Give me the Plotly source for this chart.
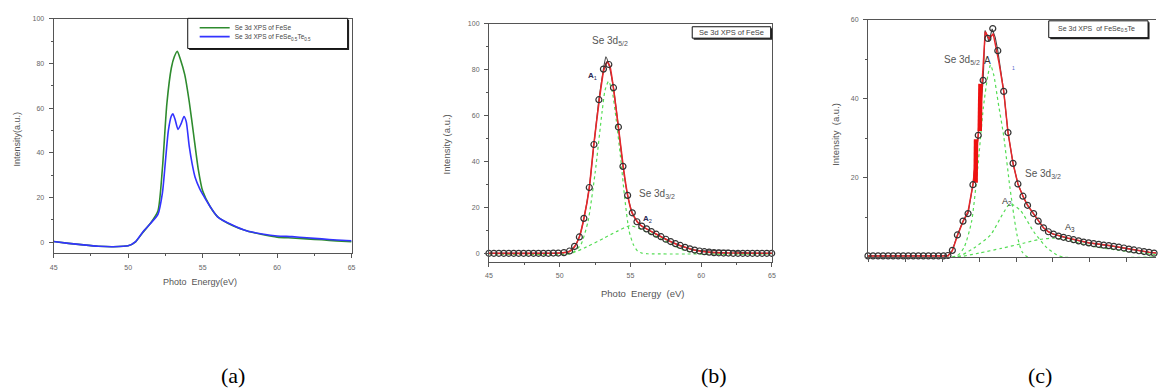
import plotly.graph_objects as go

W, H = 1160, 389

# ---------------- Panel (a) data ----------------
a_fese_x = [45, 46, 47, 48, 49, 50, 50.5, 51, 51.5, 52, 52.3, 52.6, 52.9, 53.1, 53.3, 53.5, 53.8, 54.1,
            54.4, 54.7, 55, 55.5, 56, 57, 58, 59, 60, 61, 62, 63, 64, 65]
a_fese_y = [0.3, -0.5, -1.2, -1.8, -2.0, -1.6, 0.2, 4.5, 8.5, 14, 33, 62, 78, 83, 85.5, 82, 75, 63,
            48, 33, 23, 16, 11.5, 7.5, 5, 3.5, 2.3, 1.9, 1.5, 1.1, 0.6, 0.2]
a_fst_x = [45, 46, 47, 48, 49, 50, 50.5, 51, 51.5, 52, 52.3, 52.5, 52.7, 52.9, 53.0, 53.15, 53.35, 53.55,
           53.75, 53.9, 54.1, 54.3, 54.5, 54.8, 55, 55.5, 56, 57, 58, 59, 60, 61, 62, 63, 64, 65]
a_fst_y = [0.3, -0.5, -1.2, -1.8, -2.0, -1.6, 0.3, 4.7, 8.4, 12.5, 22, 36, 50, 56.5, 57.5, 55, 50.5, 53,
           56.3, 54, 43, 35, 29, 24, 21.5, 16, 11.4, 7.7, 5, 3.7, 2.8, 2.5, 2.0, 1.5, 1.0, 0.7]
a_names = ["Se 3d XPS of FeSe", "Se 3d XPS of FeSe<sub>0.5</sub>Te<sub>0.5</sub>"]

# ---------------- Panel (b) data ----------------
b_x = [45.0, 45.35, 45.7, 46.05, 46.4, 46.75, 47.1, 47.45, 47.8, 48.15, 48.5, 48.85, 49.2, 49.55, 49.9,
       50.3, 50.7, 51.05, 51.39, 51.71, 52.09, 52.42, 52.77, 53.09, 53.47, 53.8, 54.15, 54.47, 54.8,
       55.13, 55.46, 55.8, 56.14, 56.48, 56.82, 57.16, 57.5, 57.84, 58.18, 58.52, 58.86, 59.2, 59.54,
       59.88, 60.22, 60.56, 60.9, 61.24, 61.58, 61.92, 62.26, 62.6, 62.94, 63.28, 63.62, 63.96, 64.3,
       64.64, 64.98]
b_y = [0.2, 0.2, 0.2, 0.2, 0.2, 0.2, 0.2, 0.2, 0.2, 0.2, 0.2, 0.2, 0.2, 0.3, 0.3,
       0.5, 1.2, 3.2, 7.3, 15.4, 28.8, 47.5, 67, 80.3, 82.3, 72.2, 55.1, 38, 25.4,
       17.8, 13.9, 12.0, 10.8, 9.6, 8.5, 7.4, 6.3, 5.3, 4.4, 3.6, 2.8, 2.1, 1.6,
       1.2, 0.9, 0.7, 0.5, 0.4, 0.3, 0.3, 0.2, 0.2, 0.2, 0.2, 0.2, 0.2, 0.2,
       0.2, 0.2]
b_line_x = [45, 50, 50.7, 51.05, 51.39, 51.71, 52.09, 52.42, 52.77, 53.09, 53.26, 53.47, 53.8, 54.15,
            54.47, 54.8, 55.13, 55.46, 55.8, 56.48, 57.16, 57.84, 58.52, 59.2, 59.88, 60.56, 61.24,
            61.9, 62.6, 63.3, 65]
b_line_y = [0.2, 0.3, 1.2, 3.2, 7.3, 15.4, 28.8, 47.5, 67, 80.3, 85.7, 82.3, 72.2, 55.1,
            38, 25.4, 17.8, 13.9, 12, 9.6, 7.4, 5.3, 3.6, 2.1, 1.4, 1.3, 1.5,
            1.5, 0.8, 0.3, 0.2]
b_fit_x = [45, 50, 50.7, 51.05, 51.4, 51.7, 52.1, 52.4, 52.8, 53.1, 53.35, 53.55, 53.8, 54.15, 54.5,
           54.8, 55.1, 55.5, 55.8, 56.5, 57.2, 58, 58.8, 59.5, 60.5, 62, 65]
b_fit_y = [0.2, 0.3, 1.0, 3.0, 7.5, 15, 29, 47, 67, 79.5, 83.5, 81.5, 72, 55, 37.5,
           25.5, 18, 13.8, 12, 9.6, 7.3, 4.8, 2.9, 1.6, 0.7, 0.3, 0.2]
b_a1_x = [45, 50.5, 51, 51.5, 52, 52.5, 53, 53.2, 53.45, 53.7, 54, 54.3, 54.6, 54.9, 55.2, 55.5, 55.8, 56.2, 65]
b_a1_y = [0, 0, 0.8, 4, 14, 35, 62, 71, 75, 71, 58, 42, 24, 10, 4, 1.2, 0.3, 0, 0]
b_a2_x = [45, 50.7, 51.9, 53.1, 54, 55, 56.1, 57.3, 58.7, 59.9, 65]
b_a2_y = [0, 0, 3, 6.7, 9.6, 12.2, 9.6, 6, 1.7, 0, 0]

# ---------------- Panel (c) data ----------------
c_x = [45.0, 45.34, 45.68, 46.02, 46.36, 46.7, 47.04, 47.38, 47.72, 48.06, 48.4, 48.74, 49.08, 49.42,
       49.76, 50.1, 50.4, 50.7, 51.04, 51.42, 51.76, 52.09, 52.45, 52.78, 53.1, 53.43, 53.77, 54.17,
       54.46, 54.8, 55.13, 55.47, 55.78, 56.19, 56.5, 56.86, 57.19, 57.53, 57.87, 58.21, 58.55, 58.89,
       59.23, 59.57, 59.91, 60.25, 60.59, 60.93, 61.27, 61.61, 61.95, 62.29, 62.63, 62.97, 63.31,
       63.65, 63.99, 64.33]
c_y = [0.3, 0.3, 0.3, 0.3, 0.3, 0.3, 0.3, 0.3, 0.3, 0.3, 0.3, 0.3, 0.3, 0.3,
       0.3, 0.3, 0.4, 1.7, 5.6, 9.1, 11, 18.3, 30.8, 44.7, 55.3, 57.8, 52.2, 41.9,
       31.5, 23.7, 18.5, 15.4, 13.1, 11, 9.1, 7.4, 6.4, 5.8, 5.3, 5.0, 4.7, 4.4,
       4.1, 3.8, 3.6, 3.4, 3.2, 3.0, 2.9, 2.7, 2.5, 2.3, 2.0, 1.8, 1.6,
       1.4, 1.2, 1.0]
c_line_x = [45, 50.4, 50.7, 51.04, 51.42, 51.76, 52.09, 52.45, 52.78, 52.91, 53.05, 53.17, 53.39, 53.6,
            53.77, 54.17, 54.46, 54.8, 55.13, 55.47, 55.78, 56.19, 56.5, 56.86, 57.19, 57.53, 58.55,
            59.91, 61.27, 62.63, 63.99, 64.5]
c_line_y = [0.3, 0.4, 1.7, 5.6, 9.1, 11, 18.3, 30.8, 44.7, 57.3, 56, 54.5, 57.7, 55.5,
            52.2, 41.9, 31.5, 23.7, 18.5, 15.4, 13.1, 11, 9.1, 7.4, 6.4, 5.8, 4.7,
            3.6, 2.9, 2.0, 1.2, 1.0]
c_fit_x = [45, 50.4, 50.7, 51.04, 51.42, 51.76, 52.09, 52.45, 52.72, 52.92, 53.19, 53.46, 53.86, 54.17,
           54.46, 54.8, 55.13, 55.47, 55.78, 56.19, 56.5, 56.86, 57.19, 57.53, 58.5, 59.9, 61.3, 62.6,
           64, 64.5]
c_fit_y = [0.3, 0.3, 1.6, 5.4, 9.0, 11.5, 18.3, 31, 44.7, 57, 55.2, 56.5, 49, 42,
           31.5, 23.7, 18.5, 15.4, 13.1, 11, 9.1, 7.4, 6.4, 5.8, 4.8, 3.6, 2.9, 2.0,
           1.2, 1.0]
c_thick_x = [52.27, 52.3, None, 52.55, 52.6]
c_thick_y = [18.8, 29.8, None, 31.9, 43.8]
c_a1_x = [45, 51, 51.5, 52, 52.4, 52.8, 53.1, 53.28, 53.5, 53.8, 54.17, 54.6, 55.07, 55.4, 55.8, 64.5]
c_a1_y = [0, 0.3, 2.5, 9, 22, 38, 46, 48.6, 46, 39, 30.6, 17.3, 5.6, 1.4, 0, 0]
c_a2_x = [45, 51, 52.16, 53.28, 54.06, 54.6, 55.3, 56.2, 57.1, 57.75, 58.2, 64.5]
c_a2_y = [0, 0, 2.3, 5.6, 10.6, 13.5, 11.8, 6.4, 2.3, 0.6, 0, 0]
c_a3_x = [45, 51, 52.5, 54, 55.5, 56.5, 57.5, 58.5, 59.5, 60.5, 61.8, 63, 64, 64.5]
c_a3_y = [0, 0, 1.0, 2.2, 3.5, 4.4, 4.8, 4.3, 3.3, 2.5, 1.8, 1.2, 0.8, 0.6]

panel_labels = ["(a)", "(b)", "(c)"]

# ---------------- helpers ----------------
def px(x):
    return x / W

def py(y):
    return 1 - y / H

AX = "#555555"
TXT = "#555555"
FONT = "Liberation Sans"

fig = go.Figure()

# panel (a)
fig.add_trace(go.Scatter(x=a_fese_x, y=a_fese_y, mode="lines", name=a_names[0],
                         line=dict(color="#2e8b2e", width=1.6, shape="spline", smoothing=0.6),
                         xaxis="x", yaxis="y", legend="legend"))
fig.add_trace(go.Scatter(x=a_fst_x, y=a_fst_y, mode="lines", name=a_names[1],
                         line=dict(color="#3333ff", width=1.6, shape="spline", smoothing=0.6),
                         xaxis="x", yaxis="y", legend="legend2"))

# panel (b)
green_dot = dict(color="#55dd55", width=1.2, dash="dot", shape="spline", smoothing=0.6)
fig.add_trace(go.Scatter(x=b_a1_x, y=b_a1_y, mode="lines", line=green_dot, showlegend=False,
                         xaxis="x2", yaxis="y2"))
fig.add_trace(go.Scatter(x=b_a2_x, y=b_a2_y, mode="lines", line=green_dot, showlegend=False,
                         xaxis="x2", yaxis="y2"))
fig.add_trace(go.Scatter(x=b_line_x, y=b_line_y, mode="lines", showlegend=False,
                         line=dict(color="#444444", width=1.1, shape="spline", smoothing=0.4),
                         xaxis="x2", yaxis="y2"))
fig.add_trace(go.Scatter(x=b_fit_x, y=b_fit_y, mode="lines", showlegend=False,
                         line=dict(color="#e8262a", width=1.6, shape="spline", smoothing=0.4),
                         xaxis="x2", yaxis="y2"))
fig.add_trace(go.Scatter(x=b_x, y=b_y, mode="markers", showlegend=False, cliponaxis=False,
                         marker=dict(symbol="circle-open", size=6, color="#333333", line=dict(width=1.2)),
                         xaxis="x2", yaxis="y2"))

# panel (c)
for ax_, ay_ in [(c_a1_x, c_a1_y), (c_a2_x, c_a2_y), (c_a3_x, c_a3_y)]:
    fig.add_trace(go.Scatter(x=ax_, y=ay_, mode="lines", line=green_dot, showlegend=False,
                             xaxis="x3", yaxis="y3", cliponaxis=False))
fig.add_trace(go.Scatter(x=c_line_x, y=c_line_y, mode="lines", showlegend=False,
                         line=dict(color="#444444", width=1.1),
                         xaxis="x3", yaxis="y3"))
fig.add_trace(go.Scatter(x=c_fit_x, y=c_fit_y, mode="lines", showlegend=False,
                         line=dict(color="#e8262a", width=1.5),
                         xaxis="x3", yaxis="y3"))
fig.add_trace(go.Scatter(x=c_thick_x, y=c_thick_y, mode="lines", showlegend=False,
                         line=dict(color="#ee1111", width=4.5),
                         xaxis="x3", yaxis="y3"))
fig.add_trace(go.Scatter(x=c_x, y=c_y, mode="markers", showlegend=False, cliponaxis=False,
                         marker=dict(symbol="circle-open", size=6, color="#333333", line=dict(width=1.2)),
                         xaxis="x3", yaxis="y3"))

def axis_common(**kw):
    d = dict(showline=True, linecolor=AX, linewidth=1, ticks="outside", ticklen=4, tickwidth=1,
             tickcolor=AX, tickfont=dict(family=FONT, size=7, color="#666666"), showgrid=False,
             zeroline=False, ticklabelstandoff=3,
             minor=dict(ticks="outside", ticklen=2, tickcolor=AX, showgrid=False))
    d.update(kw)
    return d

layout = dict(
    width=W, height=H, margin=dict(l=0, r=0, t=0, b=0),
    paper_bgcolor="white", plot_bgcolor="white", font=dict(family=FONT, color=TXT),
    xaxis=axis_common(domain=[px(50), px(350)], range=[45, 65], tickvals=[45, 50, 55, 60, 65],
                      mirror=True, anchor="y", minor=dict(ticks="outside", ticklen=2, tickcolor=AX,
                                                          dtick=2.5, tick0=45)),
    yaxis=axis_common(domain=[py(252), py(15)], range=[-5, 100], tickvals=[0, 20, 40, 60, 80, 100],
                      mirror=True, anchor="x", minor=dict(ticks="outside", ticklen=2, tickcolor=AX,
                                                          dtick=10, tick0=0)),
    xaxis2=axis_common(domain=[px(488.3), px(773.3)], range=[45, 65], tickvals=[45, 50, 55, 60, 65],
                       mirror=True, anchor="y2", minor=dict(ticks="outside", ticklen=2, tickcolor=AX,
                                                            dtick=2.5, tick0=45)),
    yaxis2=axis_common(domain=[py(260.7), py(20)], range=[-3.6, 100], tickvals=[0, 20, 40, 60, 80, 100],
                       mirror=True, anchor="x2", minor=dict(ticks="outside", ticklen=2, tickcolor=AX,
                                                            dtick=10, tick0=0)),
    xaxis3=axis_common(domain=[px(870), 1.0], range=[45, 64.46], tickvals=[45, 47.5, 50, 52.5, 55, 57.5, 60, 62.5],
                       showticklabels=False, mirror=True, anchor="y3", minor=dict(ticks="")),
    yaxis3=axis_common(domain=[py(255.7), py(16)], range=[0, 60], tickvals=[20, 40, 60],
                       anchor="x3", minor=dict(ticks="outside", ticklen=2, tickcolor=AX,
                                               dtick=10, tick0=0)),
    legend=dict(x=px(192), y=py(24), xanchor="left", yanchor="middle", bgcolor="rgba(0,0,0,0)",
                borderwidth=0, font=dict(family=FONT, size=6.5, color="#444444"), itemwidth=30),
    legend2=dict(x=px(192), y=py(33), xanchor="left", yanchor="middle", bgcolor="rgba(0,0,0,0)",
                 borderwidth=0, font=dict(family=FONT, size=6.5, color="#444444"), itemwidth=30),
)
fig.update_layout(**layout)

# boxes (legend frames)
def box(x0, y0, x1, y1):
    fig.add_shape(type="rect", xref="paper", yref="paper", x0=px(x0 + 1.5), x1=px(x1 + 1.5),
                  y0=py(y1 + 1.5), y1=py(y0 + 1.5), fillcolor="#222222", line=dict(width=0), layer="above")
    fig.add_shape(type="rect", xref="paper", yref="paper", x0=px(x0), x1=px(x1),
                  y0=py(y1), y1=py(y0), fillcolor="white", line=dict(color="#111111", width=1), layer="above")

box(185, 14.5, 346, 45)
box(693, 23, 772, 34.5)
box(1052, 17, 1152, 34)

def ann(text, x, y, size=9, color=TXT, angle=0, family=FONT, **kw):
    fig.add_annotation(text=text, x=px(x), y=py(y), xref="paper", yref="paper", showarrow=False,
                       xanchor="center", yanchor="middle", textangle=angle,
                       font=dict(family=family, size=size, color=color), **kw)

# axis titles
ann("Intensity(a.u.)", 13, 136, size=9, angle=-90)
ann("Photo  Energy(eV)", 197, 281, size=9)
ann("Intensity (a.u.)", 446, 142, size=9.5, angle=-90)
ann("Photo  Energy  (eV)", 643, 293, size=9.5)
ann("Intensity  (a.u.)", 837, 132, size=9.5, angle=-90)

# box texts
ann("Se 3d XPS of FeSe", 733, 29, size=7.5, color="#444444")
ann("Se 3d XPS  of FeSe<sub>0.5</sub>Te", 1100, 25.5, size=7, color="#444444")

# peak annotations (b)
ann("Se 3d<sub>5/2</sub>", 610, 37, size=10, color="#555555")
ann("Se 3d<sub>3/2</sub>", 658, 192, size=10, color="#555555")
ann("<b>A</b><sub>1</sub>", 593, 73, size=8, color="#2a2a55")
ann("<b>A</b><sub>2</sub>", 648, 217, size=8, color="#2a2a55")

# peak annotations (c)
ann("Se 3d<sub>5/2</sub>", 965, 57, size=10, color="#555555")
ann("A", 990, 57, size=10, color="#333333")
ann("1", 1017, 65, size=5, color="#5566cc")
ann("Se 3d<sub>3/2</sub>", 1046, 172, size=10, color="#555555")
ann("A<sub>2</sub>", 1010, 200, size=9, color="#333333")
ann("A<sub>3</sub>", 1073, 226, size=9, color="#333333")

# panel labels
for lab, xx in zip(panel_labels, [231, 715, 1043]):
    ann(lab, xx, 375.5, size=22, color="#000000", family="Liberation Serif")

fig.write_html("out.html")
